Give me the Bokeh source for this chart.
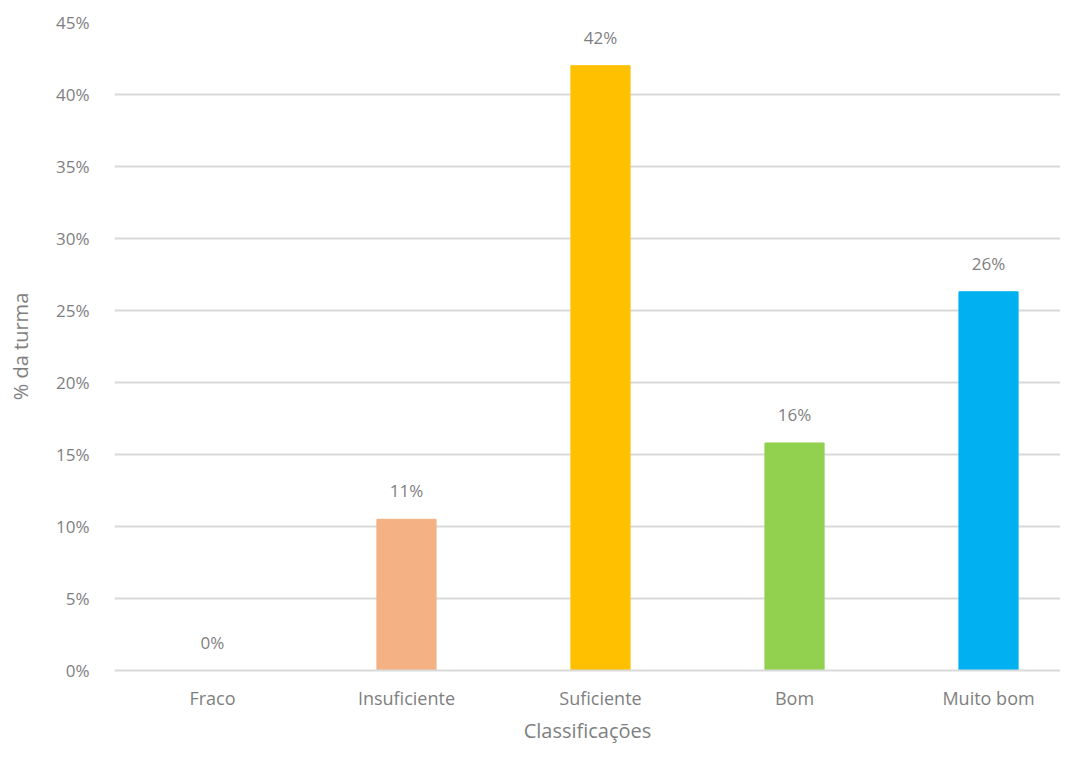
from bokeh.plotting import figure
from bokeh.models import ColumnDataSource, FixedTicker, NumeralTickFormatter, Range1d, LabelSet
from bokeh.core.properties import value
from bokeh.embed import file_html
from bokeh.resources import INLINE

categories = ["Fraco", "Insuficiente", "Suficiente", "Bom", "Muito bom"]
values = [0.0, 0.105, 0.42, 0.158, 0.263]
labels = ["0%", "11%", "42%", "16%", "26%"]
colors = ["#F4B183", "#F4B183", "#FFC000", "#92D050", "#00B0F0"]
y_ticks = [0.0, 0.05, 0.10, 0.15, 0.20, 0.25, 0.30, 0.35, 0.40, 0.45]

FONT = "Open Sans"
TXT = "#7f7f7f"

xs = list(range(len(categories)))
src = ColumnDataSource(dict(x=xs, top=values, color=colors, label=labels))

p = figure(width=1060, height=746, output_backend="svg", toolbar_location=None,
           x_range=Range1d(-0.505, 4.371), y_range=Range1d(0, 0.45),
           min_border_left=114, min_border_right=0, min_border_top=22, min_border_bottom=76)
p.outline_line_color = None
p.background_fill_color = "white"
p.border_fill_color = "white"

p.vbar(x="x", top="top", width=0.305, color="color", source=src)

lab = LabelSet(x="x", y="top", text="label", source=src, text_align="center",
               text_baseline="bottom", y_offset=17, text_font=value(FONT),
               text_font_size="17px", text_color=TXT)
p.add_layout(lab)

p.xaxis.ticker = FixedTicker(ticks=xs)
p.xaxis.major_label_overrides = {i: c for i, c in enumerate(categories)}
p.xaxis.major_tick_line_color = None
p.xaxis.minor_tick_line_color = None
p.xaxis.major_tick_out = 0
p.xaxis.axis_line_color = "#d9d9d9"
p.xaxis.axis_line_width = 2
p.xaxis.major_label_text_font = FONT
p.xaxis.major_label_text_font_size = "18px"
p.xaxis.major_label_text_color = TXT
p.xaxis.major_label_standoff = 15
p.xaxis.axis_label = "Classificações"
p.xaxis.axis_label_text_font = FONT
p.xaxis.axis_label_text_font_size = "20px"
p.xaxis.axis_label_text_font_style = "normal"
p.xaxis.axis_label_text_color = TXT
p.xaxis.axis_label_standoff = 4

p.yaxis.ticker = FixedTicker(ticks=y_ticks)
p.yaxis.formatter = NumeralTickFormatter(format="0%")
p.yaxis.major_tick_line_color = None
p.yaxis.minor_tick_line_color = None
p.yaxis.major_tick_out = 0
p.yaxis.axis_line_color = None
p.yaxis.major_label_text_font = FONT
p.yaxis.major_label_text_font_size = "17px"
p.yaxis.major_label_text_color = TXT
p.yaxis.major_label_standoff = 25
p.yaxis.axis_label = "% da turma"
p.yaxis.axis_label_text_font = FONT
p.yaxis.axis_label_text_font_size = "20px"
p.yaxis.axis_label_text_font_style = "normal"
p.yaxis.axis_label_text_color = TXT
p.yaxis.axis_label_standoff = 19

p.xgrid.grid_line_color = None
p.ygrid.grid_line_color = "#d9d9d9"
p.ygrid.grid_line_width = 2

open("out.html", "w").write(file_html(p, INLINE))
